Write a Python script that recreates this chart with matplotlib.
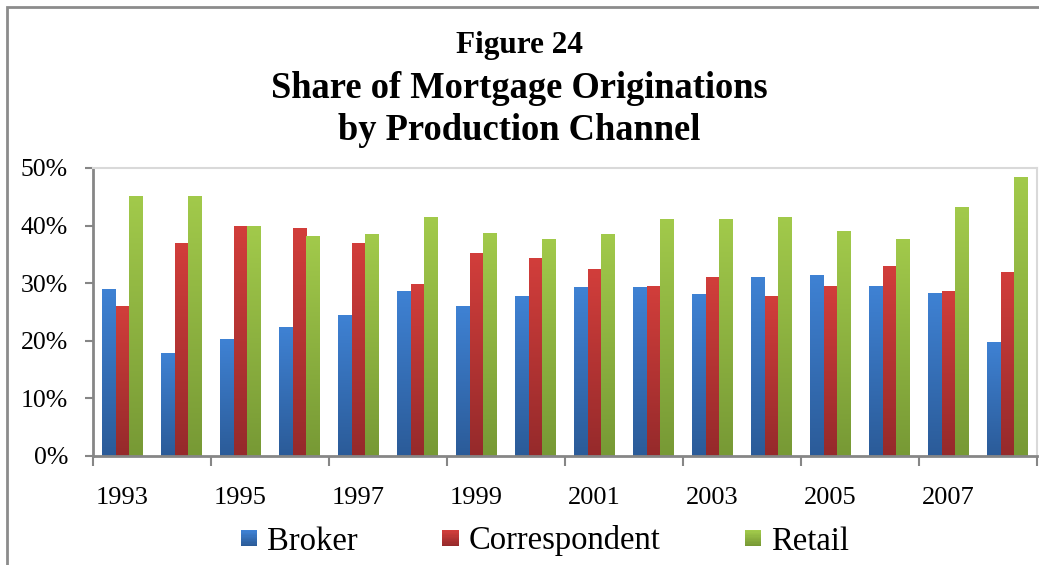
import numpy as np
import matplotlib
matplotlib.use("Agg")
import matplotlib.pyplot as plt
from matplotlib.patches import Rectangle
from matplotlib.legend_handler import HandlerBase
from matplotlib.colors import LinearSegmentedColormap

# data (% share)
years = list(range(1993, 2009))
broker = [29.0, 17.9, 20.3, 22.4, 24.5, 28.7, 26.1, 27.8, 29.4, 29.4, 28.2, 31.1, 31.5, 29.5, 28.3, 19.8]
correspondent = [26.1, 37.0, 40.0, 39.5, 37.0, 29.9, 35.3, 34.4, 32.5, 29.5, 31.1, 27.8, 29.5, 32.9, 28.7, 32.0]
retail = [45.2, 45.2, 40.0, 38.2, 38.6, 41.5, 38.8, 37.7, 38.6, 41.2, 41.2, 41.5, 39.1, 37.7, 43.3, 48.5]

series = [
    ("Broker", broker, ("#2b5b98", "#3f82d4")),
    ("Correspondent", correspondent, ("#952a2b", "#d23e3b")),
    ("Retail", retail, ("#779935", "#a2ca4b")),
]

serif = "Liberation Serif"
plt.rcParams["font.family"] = serif

fig = plt.figure(figsize=(10.39, 5.65), dpi=100)
ax = fig.add_axes([93 / 1039, 1 - 456 / 565, (1037 - 93) / 1039, (456 - 168) / 565])

x = np.arange(len(years)) + 0.5
w = 0.237
grad = np.linspace(0, 1, 256).reshape(-1, 1)

for k, (name, vals, (c0, c1)) in enumerate(series):
    cmap = LinearSegmentedColormap.from_list(name, [c0, c1])
    bars = ax.bar(x + (k - 1) * w, vals, width=w, facecolor="none", edgecolor="none")
    for b in bars:
        x0, y0 = b.get_x(), b.get_y()
        im = ax.imshow(grad, cmap=cmap, origin="lower", aspect="auto",
                       extent=(x0, x0 + b.get_width(), y0, y0 + b.get_height()),
                       interpolation="bilinear", zorder=2)
        im.set_clip_path(b)

ax.set_xlim(0, len(years))
ax.set_ylim(0, 50)

# axes styling
for s in ["top", "right"]:
    ax.spines[s].set_color("#d9d9d9")
    ax.spines[s].set_linewidth(1.5)
for s in ["left", "bottom"]:
    ax.spines[s].set_color("#868686")
    ax.spines[s].set_linewidth(2)

ax.set_yticks(np.arange(0, 51, 10))
ax.set_yticklabels([f"{v}%" for v in range(0, 51, 10)], fontsize=18.5)
ax.tick_params(axis="y", direction="out", length=6, width=1.5, color="#868686", pad=12)

ax.set_xticks(np.arange(0, len(years) + 1, 2))
ax.set_xticklabels([])
ax.tick_params(axis="x", which="major", direction="out", length=7, width=1.5, color="#868686")
ax.set_xticks(x[::2], minor=True)
ax.set_xticklabels([str(y) for y in years[::2]], minor=True, fontsize=19)
ax.tick_params(axis="x", which="minor", length=0, pad=22)

# titles
fig.text(0.5, 1 - 45 / 565, "Figure 24", ha="center", va="center", fontsize=22.5, fontweight="bold")
fig.text(0.5, 1 - 88 / 565, "Share of Mortgage Originations", ha="center", va="center",
         fontsize=26.3, fontweight="bold")
fig.text(0.5, 1 - 130 / 565, "by Production Channel", ha="center", va="center",
         fontsize=26.3, fontweight="bold")

# outer chart border (cut off on right and bottom)
fig.patches.append(Rectangle((7 / 1039, -0.1), 1.2, 1 - 7 / 565 + 0.1, transform=fig.transFigure,
                             fill=False, edgecolor="#8c8c8c", linewidth=2))


class GradHandler(HandlerBase):
    def __init__(self, c0, c1):
        super().__init__()
        self.cmap = LinearSegmentedColormap.from_list("h", [c0, c1])

    def create_artists(self, legend, orig_handle, xdescent, ydescent, width, height, fontsize, trans):
        n = 12
        size = min(width, height)
        x0 = -xdescent + (width - size) / 2
        y0 = -ydescent + (height - size) / 2
        arts = []
        for i in range(n):
            r = Rectangle((x0, y0 + size * i / n), size, size / n + 0.3,
                          facecolor=self.cmap(i / (n - 1)), edgecolor="none", transform=trans)
            arts.append(r)
        return arts


handles = [Rectangle((0, 0), 1, 1) for _ in series]
hmap = {h: GradHandler(c0, c1) for h, (_, _, (c0, c1)) in zip(handles, series)}
fig.legend(handles, [s[0] for s in series], handler_map=hmap, loc="center",
           bbox_to_anchor=(545 / 1039, 1 - 541 / 565), ncol=3, frameon=False,
           prop={"family": serif, "size": 23.5}, handlelength=0.5, handletextpad=0.3,
           columnspacing=2.6)

fig.savefig("out.png", dpi=100)
